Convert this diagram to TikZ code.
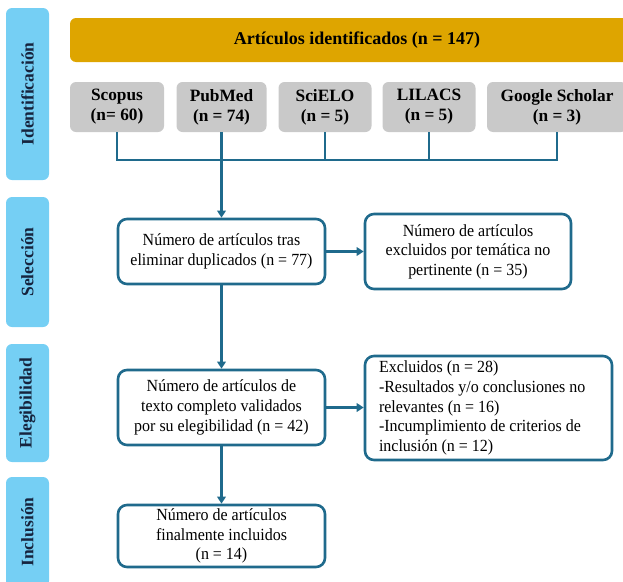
\documentclass[tikz,border=0pt]{standalone}
\usepackage{fontspec}
\setmainfont{Liberation Serif}
\newfontfamily\boxfont[FakeStretch=0.94]{Liberation Serif}
\usetikzlibrary{arrows.meta}
\definecolor{phaseblue}{RGB}{117,207,244}
\definecolor{goldbar}{RGB}{222,165,0}
\definecolor{srcgrey}{RGB}{201,201,201}
\definecolor{lineblue}{RGB}{31,106,140}
\definecolor{navytext}{RGB}{22,36,62}

\begin{document}
\begin{tikzpicture}[x=1pt, y=-1pt,
    phase/.style={fill=phaseblue, rounded corners=6pt, rotate=90, minimum height=43pt, text=navytext,
        font=\fontsize{17.5}{20}\selectfont\bfseries},
    source/.style={fill=srcgrey, rounded corners=6pt, minimum height=50pt, align=center,
        font=\fontsize{17.3}{20}\selectfont\bfseries},
    stage/.style={draw=lineblue, line width=2.6pt, rounded corners=9pt, fill=white, align=center,
        minimum width=207pt, font=\boxfont\fontsize{17}{19.6}\selectfont},
    conn/.style={lineblue, line width=2.3pt},
    arr/.style={conn, -{Triangle[length=7pt, width=8.5pt]}}]
    \useasboundingbox (0,0) rectangle (623,581);
    % Phases
    \node[phase, minimum width=172pt] (identif) at (27.5,94) {Identificación};
    \node[phase, minimum width=130pt] (selec) at (27.5,262) {Selección};
    \node[phase, minimum width=118pt] (elegib) at (27.5,403) {Elegibilidad};
    \node[phase, minimum width=110pt] (inclus) at (27.5,532) {Inclusión};
    % Identification
    \node[fill=goldbar, rounded corners=6pt, minimum width=574pt, minimum height=44pt,
        font=\fontsize{18}{20}\selectfont\bfseries] (total) at (357,40) {Artículos identificados (n = 147)};
    \node[source, minimum width=94pt] (scopus) at (117,107) {Scopus\\(n= 60)};
    \node[source, minimum width=90pt] (pubmed) at (221.5,107) {PubMed\\(n = 74)};
    \node[source, minimum width=93pt] (scielo) at (325,107) {SciELO\\(n = 5)};
    \node[source, minimum width=93pt] (lilacs) at (429,107) {LILACS\\(n = 5)};
    \node[source, minimum width=140pt] (scholar) at (557,107) {Google Scholar\\(n = 3)};
    % Screening and eligibility
    \node[stage, minimum height=65pt] (dup) at (221.5,251.5) {Número de artículos tras\\eliminar duplicados (n = 77)};
    \node[stage, minimum width=206pt, minimum height=75pt] (excl1) at (468,251.5) {Número de artículos\\excluidos por temática no\\pertinente (n = 35)};
    \node[stage, minimum height=75pt] (elig) at (221.5,407.5) {Número de artículos de\\texto completo validados\\por su elegibilidad (n = 42)};
    \node[stage, minimum width=247pt, minimum height=104pt, text width=219pt, align=flush left] (excl2) at (488.5,408)
        {Excluidos (n = 28)\\-Resultados y/o conclusiones no\\relevantes (n = 16)\\-Incumplimiento de criterios de\\inclusión (n = 12)};
    \node[stage, minimum height=62pt] (final) at (221.5,536) {Número de artículos\\finalmente incluidos\\(n = 14)};
    % Connectors
    \coordinate (bus) at (221.5,160);
    \draw[conn] (scopus.south) |- (scholar.south |- bus) -- (scholar.south);
    \draw[conn] (scielo.south) -- (scielo.south |- bus);
    \draw[conn] (lilacs.south) -- (lilacs.south |- bus);
    \draw[arr] (pubmed.south) -- (dup.north);
    \draw[arr] (dup.east) -- (excl1.west);
    \draw[arr] (dup.south) -- (elig.north);
    \draw[arr] (elig.east) -- (excl2.west |- elig.east);
    \draw[arr] (elig.south) -- (final.north);
\end{tikzpicture}
\end{document}
